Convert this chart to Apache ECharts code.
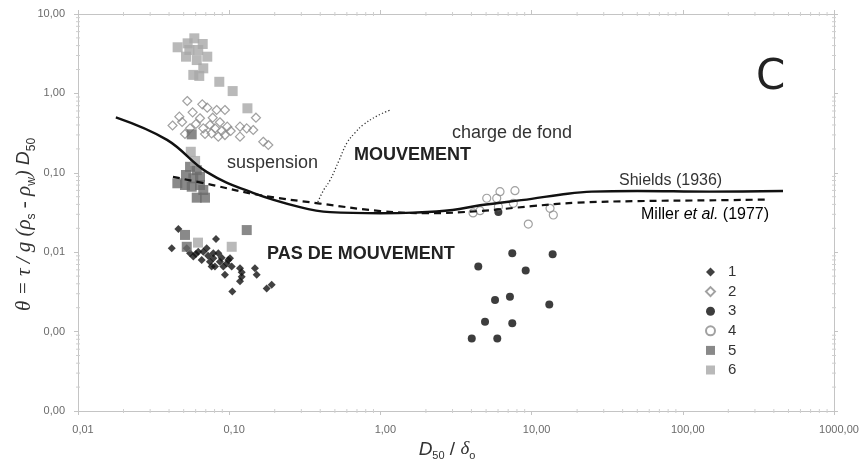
<!DOCTYPE html>
<html><head><meta charset="utf-8">
<script src="https://cdn.jsdelivr.net/npm/echarts@6/dist/echarts.min.js"></script>
<style>html,body{margin:0;padding:0;background:#fff}#c{width:866px;height:465px}</style>
</head><body><div id="c"></div>
<script>
// ---- data ----
const xRange = [0.01, 1000];
const yRange = [0.0001, 10];
const legendNames = ['1', '2', '3', '4', '5', '6'];

const s1 = [[0.0417,0.0112],[0.0461,0.0196],[0.0524,0.0112],[0.0551,0.0097],[0.0579,0.0088],[0.0624,0.0101],[0.0658,0.0080],[0.0674,0.0101],[0.0710,0.0112],[0.0746,0.0076],[0.0765,0.0066],[0.0785,0.0097],[0.0785,0.0084],[0.0818,0.0147],[0.0847,0.0097],[0.0868,0.0076],[0.0891,0.0085],[0.0914,0.0066],[0.0937,0.0052],[0.0963,0.0072],[0.0987,0.0080],[0.1012,0.0084],[0.1039,0.0066],[0.1049,0.0032],[0.1179,0.0063],[0.121,0.0049],[0.1179,0.0043],[0.121,0.0056],[0.148,0.0063],[0.152,0.0052],[0.177,0.0035],[0.191,0.0039],[0.0805,0.0066],[0.0725,0.0090],[0.0602,0.0095]];
const s2 = [[0.0422,0.394],[0.0468,0.509],[0.0488,0.436],[0.0510,0.308],[0.0528,0.802],[0.0573,0.578],[0.0641,0.486],[0.0664,0.729],[0.0674,0.363],[0.0716,0.661],[0.0746,0.400],[0.0778,0.494],[0.0805,0.363],[0.0826,0.618],[0.0847,0.285],[0.0868,0.433],[0.0937,0.618],[0.0937,0.299],[0.0891,0.336],[0.0971,0.381],[0.1023,0.336],[0.1179,0.381],[0.1179,0.285],[0.1305,0.363],[0.1442,0.346],[0.1503,0.494],[0.168,0.246],[0.1814,0.224],[0.0692,0.308],[0.0765,0.314],[0.0602,0.412],[0.0551,0.363]];
const s3 = [[4.02,0.00082],[4.44,0.0066],[4.92,0.00133],[5.73,0.0025],[5.93,0.00082],[7.19,0.00275],[7.45,0.0097],[7.45,0.00127],[9.14,0.0059],[13.09,0.0022],[13.78,0.0094],[6.03,0.032]];
const s4 = [[4.10,0.0312],[4.56,0.0333],[5.05,0.0478],[5.88,0.0478],[6.18,0.0578],[7.76,0.0595],[7.57,0.0413],[6.03,0.0374],[13.24,0.0357],[13.92,0.0294],[9.51,0.0226]];
const s5 = [[0.0551,0.119],[0.0610,0.108],[0.0518,0.0938],[0.0579,0.0853],[0.0641,0.0893],[0.0454,0.0738],[0.0510,0.0702],[0.0565,0.0668],[0.0641,0.0702],[0.0674,0.0607],[0.0610,0.0486],[0.0692,0.0486],[0.0565,0.305],[0.051,0.0165],[0.0524,0.0117],[0.1306,0.0190]];
const s6 = [[0.0456,3.81],[0.0531,4.27],[0.0588,4.94],[0.0668,4.19],[0.0545,3.52],[0.0624,3.52],[0.0518,2.90],[0.0610,2.63],[0.0716,2.90],[0.0674,2.07],[0.0579,1.71],[0.0634,1.66],[0.086,1.40],[0.1054,1.07],[0.132,0.649],[0.0557,0.184],[0.0595,0.141],[0.0622,0.0132],[0.1039,0.0117]];

const shields = [[0.0178,0.50],[0.0388,0.26],[0.0713,0.102],[0.1435,0.056],[0.294,0.037],[0.465,0.032],[1.0,0.031],[1.64,0.0315],[3,0.034],[4.56,0.039],[10,0.047],[15.4,0.053],[25,0.058],[50,0.059],[150,0.058],[460,0.059]];
const miller = [[0.0425,0.089],[0.078,0.070],[0.158,0.0525],[0.398,0.041],[1.0,0.033],[2,0.031],[4.56,0.033],[10,0.038],[20,0.042],[50,0.044],[150,0.045],[360,0.046]];
const suspensionLimit = [[0.386,0.043],[0.42,0.06],[0.465,0.081],[0.53,0.14],[0.60,0.237],[0.68,0.32],[0.767,0.40],[0.95,0.52],[1.156,0.616]];

// minor tick positions of the log axes (2..9 within each decade)
const minorMultipliers = [2, 3, 4, 5, 6, 7, 8, 9];
const xDecades = [0.01, 0.1, 1, 10, 100];
const yDecades = [0.0001, 0.001, 0.01, 0.1, 1];

// ---- chart ----
const fmt = v => Number(v).toFixed(2).replace('.', ',');
const AX = '#c4c4c4';
const SANS = '"Liberation Sans", Arial, sans-serif';
const SERIF = '"Liberation Serif", "Times New Roman", serif';

const xMinor = [], yMinor = [];
xDecades.forEach(d => minorMultipliers.forEach(m => xMinor.push([d * m, yRange[0]])));
yDecades.forEach(d => minorMultipliers.forEach(m => yMinor.push([xRange[0], d * m])));

function logAxis(extra) {
  return Object.assign({
    type: 'log', logBase: 10,
    axisLine: { show: true, lineStyle: { color: AX, width: 1 } },
    axisTick: { show: true, length: 4, lineStyle: { color: AX } },
    minorTick: { show: false },
    splitLine: { show: false }, minorSplitLine: { show: false },
    axisLabel: { show: false }
  }, extra);
}

function tickLine(x1, y1, x2, y2) {
  return { type: 'line', shape: { x1, y1, x2, y2 }, style: { stroke: '#cfcfcf', lineWidth: 1 } };
}

const chart = echarts.init(document.getElementById('c'), null, { renderer: 'canvas' });
chart.setOption({
  animation: false,
  backgroundColor: '#fff',
  grid: { left: 78, right: 32, top: 14, bottom: 54, containLabel: false, outerBoundsMode: 'none' },
  xAxis: [
    logAxis({
      min: xRange[0], max: xRange[1], position: 'bottom',
      axisLabel: { show: true, formatter: fmt, color: '#6a6a6a', fontSize: 11, fontFamily: SANS, margin: 13, padding: [0, 0, 0, 10] },
      name: '{d|D}{s|50}{n| / }{g|δ}{s|o}',
      nameLocation: 'middle', nameGap: 22,
      nameTextStyle: {
        color: '#333', padding: [0, 18, 0, 0],
        rich: {
          d: { fontFamily: SANS, fontStyle: 'italic', fontSize: 19, color: '#333', lineHeight: 22, verticalAlign: 'top' },
          n: { fontFamily: SANS, fontSize: 19, color: '#333', lineHeight: 22, verticalAlign: 'top' },
          g: { fontFamily: SERIF, fontStyle: 'italic', fontSize: 19, color: '#333', lineHeight: 22, verticalAlign: 'top' },
          s: { fontFamily: SANS, fontSize: 11, color: '#333', lineHeight: 22, verticalAlign: 'bottom' }
        }
      }
    }),
    logAxis({ min: xRange[0], max: xRange[1], position: 'top' })
  ],
  yAxis: [
    logAxis({
      min: yRange[0], max: yRange[1], position: 'left',
      axisLabel: { show: true, formatter: fmt, color: '#6a6a6a', fontSize: 11, fontFamily: SANS, margin: 13 },
      name: '{t|θ = τ / g (ρ}{s|s}{t| - ρ}{s|w}{n|) }{d|D}{s|50}',
      nameLocation: 'middle', nameGap: 40, nameRotate: 90, nameMoveOverlap: false,
      nameTextStyle: {
        color: '#333', padding: [0, 24, 0, 0],
        rich: {
          t: { fontFamily: SERIF, fontStyle: 'italic', fontSize: 21, color: '#333', lineHeight: 24, verticalAlign: 'top' },
          n: { fontFamily: SERIF, fontStyle: 'italic', fontSize: 21, color: '#333', lineHeight: 24, verticalAlign: 'top' },
          d: { fontFamily: SANS, fontStyle: 'italic', fontSize: 19, color: '#333', lineHeight: 24, verticalAlign: 'top' },
          s: { fontFamily: SANS, fontSize: 12, color: '#333', lineHeight: 24, verticalAlign: 'bottom' }
        }
      }
    }),
    logAxis({ min: yRange[0], max: yRange[1], position: 'right' })
  ],
  legend: {
    data: legendNames,
    orient: 'vertical', left: 700, top: 259,
    itemWidth: 9, itemHeight: 9, itemGap: 3.6,
    textStyle: { fontSize: 15, lineHeight: 16, color: '#333', fontFamily: SANS, padding: [0, 0, 0, 8] }
  },
  graphic: [
    { type: 'text', x: 756, y: 78, style: { text: 'C', fontSize: 42, fontFamily: '"DejaVu Sans", sans-serif', fill: '#222', verticalAlign: 'middle' } },
    { type: 'text', x: 227, y: 163, style: { text: 'suspension', fontSize: 18, fontFamily: SANS, fill: '#333', verticalAlign: 'middle' } },
    { type: 'text', x: 354, y: 155, style: { text: 'MOUVEMENT', fontSize: 18, fontWeight: 'bold', fontFamily: SANS, fill: '#222', verticalAlign: 'middle' } },
    { type: 'text', x: 452, y: 133, style: { text: 'charge de fond', fontSize: 18, fontFamily: SANS, fill: '#333', verticalAlign: 'middle' } },
    { type: 'text', x: 267, y: 254, style: { text: 'PAS DE MOUVEMENT', fontSize: 18, fontWeight: 'bold', fontFamily: SANS, fill: '#222', verticalAlign: 'middle' } },
    { type: 'text', x: 619, y: 181, style: { text: 'Shields (1936)', fontSize: 16, fontFamily: SANS, fill: '#333', verticalAlign: 'middle' } },
    { type: 'text', x: 641, y: 215, style: {
        text: '{a|Miller }{b|et al.}{a| (1977)}', verticalAlign: 'middle',
        rich: {
          a: { fontSize: 16, fontFamily: SANS, color: '#333' },
          b: { fontSize: 16, fontFamily: SANS, fontStyle: 'italic', color: '#333' }
        } } }
  ],
  series: [
    { name: 'xminor', type: 'custom', data: xMinor, clip: false, silent: true, z: 1,
      renderItem: (params, api) => {
        const v = api.value(0);
        const b = api.coord([v, yRange[0]]), t = api.coord([v, yRange[1]]);
        return { type: 'group', children: [tickLine(b[0], b[1] - 2, b[0], b[1] + 2), tickLine(t[0], t[1] - 2, t[0], t[1] + 2)] };
      } },
    { name: 'yminor', type: 'custom', data: yMinor, clip: false, silent: true, z: 1,
      renderItem: (params, api) => {
        const v = api.value(1);
        const l = api.coord([xRange[0], v]), r = api.coord([xRange[1], v]);
        return { type: 'group', children: [tickLine(l[0] - 2, l[1], l[0] + 2, l[1]), tickLine(r[0] - 2, r[1], r[0] + 2, r[1])] };
      } },
    { name: '1', type: 'scatter', data: s1, symbol: 'diamond', symbolSize: 8, itemStyle: { color: '#111' }, z: 2 },
    { name: '2', type: 'scatter', data: s2, symbol: 'diamond', symbolSize: 9, itemStyle: { color: 'rgba(255,255,255,0)', borderColor: '#8a8a8a', borderWidth: 1.2 }, z: 2 },
    { name: '3', type: 'scatter', data: s3, symbol: 'circle', symbolSize: 8, itemStyle: { color: '#0d0d0d' }, z: 2 },
    { name: '4', type: 'scatter', data: s4, symbol: 'circle', symbolSize: 8, itemStyle: { color: 'rgba(255,255,255,0)', borderColor: '#8a8a8a', borderWidth: 1.2 }, z: 2 },
    { name: '5', type: 'scatter', data: s5, symbol: 'rect', symbolSize: 10, itemStyle: { color: '#6c6c6c' }, z: 2 },
    { name: '6', type: 'scatter', data: s6, symbol: 'rect', symbolSize: 10, itemStyle: { color: '#a8a8a8' }, z: 2 },
    { name: 'Shields (1936)', type: 'line', data: shields, smooth: 0.4, showSymbol: false, lineStyle: { color: '#111', width: 2.4 }, z: 4 },
    { name: 'Miller et al. (1977)', type: 'line', data: miller, smooth: 0.4, showSymbol: false, lineStyle: { color: '#111', width: 2.2, type: [7, 5] }, z: 4 },
    { name: 'limit', type: 'line', data: suspensionLimit, smooth: 0.4, showSymbol: false, lineStyle: { color: '#333', width: 1.3, type: [1.2, 2.2] }, z: 4 }
  ]
});
</script>
</body></html>
